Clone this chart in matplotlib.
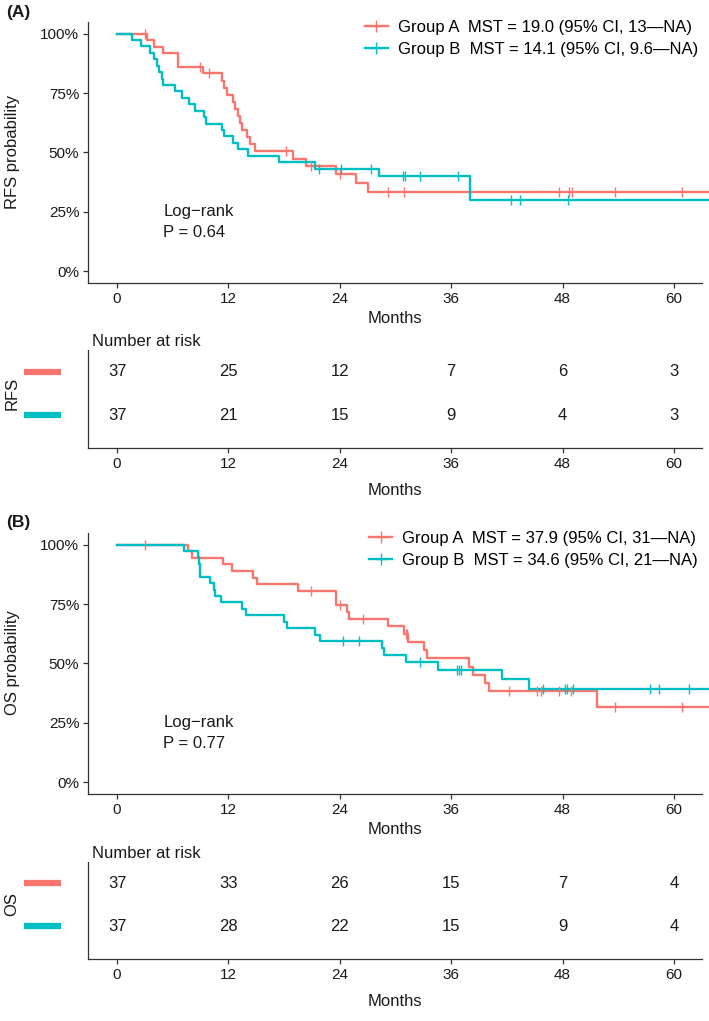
import numpy as np
import matplotlib
matplotlib.use("Agg")
import matplotlib.pyplot as plt
from matplotlib.lines import Line2D

plt.rcParams['font.family'] = ['Liberation Sans', 'DejaVu Sans']

# ---------------- data ----------------
n_patients = 37
group_names = ["Group A", "Group B"]
colors = ["#F8766D", "#00BFC4"]

rfs_a_events = [3.2, 4.0, 5.0, 6.6, 6.6, 9.3, 11.35, 11.5, 11.9, 12.5, 12.7, 13.06,
                13.2, 13.5, 14.05, 14.3, 14.87, 19.0, 20.4, 23.6, 25.75, 27.0]
rfs_a_censor = [3.0, 8.9, 9.9, 18.2, 20.9, 24.0, 29.2, 30.9, 47.6, 48.7, 49.0, 53.7, 60.9]
rfs_b_events = [1.58, 2.58, 3.55, 4.0, 4.35, 4.56, 4.8, 5.0, 6.25, 6.97, 7.8, 8.4,
                9.375, 9.6, 11.28, 11.53, 12.47, 13.07, 14.1, 17.5, 21.3, 28.2, 38.05, 38.05]
rfs_b_censor = [21.8, 24.1, 27.4, 30.8, 31.0, 32.6, 36.7, 42.4, 43.4, 48.6]

os_a_events = [7.6, 8.1, 11.46, 12.36, 14.6, 15.05, 19.5, 23.6, 23.6, 24.75, 25.0, 29.2,
               30.96, 31.4, 33.1, 33.4, 37.9, 38.4, 39.7, 40.1, 51.7]
os_a_censor = [3.0, 20.9, 24.0, 26.5, 31.1, 31.25, 42.2, 45.3, 45.7, 47.6, 48.9, 53.7, 60.9]
os_b_events = [7.2, 8.7, 8.8, 8.95, 8.95, 10.06, 10.4, 10.6, 11.25, 13.5, 13.9, 18.0,
               18.3, 21.3, 21.9, 28.6, 28.8, 31.15, 34.6, 41.45, 44.4]
os_b_censor = [24.3, 26.1, 32.6, 36.6, 36.9, 37.1, 45.9, 48.3, 48.5, 49.1, 57.4, 58.4, 61.6]

risk_times = [0, 12, 24, 36, 48, 60]
rfs_risk_a = [37, 25, 12, 7, 6, 3]
rfs_risk_b = [37, 21, 15, 9, 4, 3]
os_risk_a = [37, 33, 26, 15, 7, 4]
os_risk_b = [37, 28, 22, 15, 9, 4]

rfs_legend = ["Group A  MST = 19.0 (95% CI, 13\u2014NA)",
              "Group B  MST = 14.1 (95% CI, 9.6\u2014NA)"]
os_legend = ["Group A  MST = 37.9 (95% CI, 31\u2014NA)",
             "Group B  MST = 34.6 (95% CI, 21\u2014NA)"]
rfs_p = "Log\u2212rank\nP = 0.64"
os_p = "Log\u2212rank\nP = 0.77"
y_ticks = [0, 0.25, 0.5, 0.75, 1.0]
y_ticklabels = ["0%", "25%", "50%", "75%", "100%"]

# ---------------- helpers ----------------
W, H = 709, 1021
fig = plt.figure(figsize=(W / 100, H / 100), dpi=100)
XMIN, XMAX = -3.1, 63.0


def px_axes(l, t, r, b):
    return fig.add_axes([l / W, 1 - b / H, (r - l) / W, (b - t) / H])


def km(events, censors, n):
    ev = np.sort(np.array(events, float))
    ce = np.sort(np.array(censors, float))
    ut = np.unique(ev)
    s = 1.0
    ts, ss = [0.0], [1.0]
    for t in ut:
        at_risk = n - np.sum(ev < t) - np.sum(ce < t)
        d = np.sum(ev == t)
        s *= (1 - d / at_risk)
        ts.append(t)
        ss.append(s)
    return np.array(ts), np.array(ss)


def surv_at(ts, ss, t):
    idx = np.searchsorted(ts, t, side='right') - 1
    return ss[idx]


def style_axes(ax):
    for sp in ['top', 'right']:
        ax.spines[sp].set_visible(False)
    for sp in ['left', 'bottom']:
        ax.spines[sp].set_linewidth(0.9)
        ax.spines[sp].set_color('#333333')
    ax.tick_params(axis='both', direction='out', length=3.5, width=0.9,
                   color='#333333', labelsize=11, labelcolor='#1a1a1a', pad=3)


def survival_panel(top, events_list, censor_list, legend_labels, ptext, ylab, tag):
    ax = px_axes(88.3, top + 21.7, 701.7, top + 283.3)
    style_axes(ax)
    handles = []
    for ev, ce, col, lab in zip(events_list, censor_list, colors, legend_labels):
        ts, ss = km(ev, ce, n_patients)
        tx = np.append(ts, 63.8)
        sx = np.append(ss, ss[-1])
        ax.step(tx, sx, where='post', color=col, lw=1.7, clip_on=False, zorder=3)
        cy = [surv_at(ts, ss, c) for c in ce]
        ax.plot(ce, cy, linestyle='none', marker='|', markersize=7.5, mew=1.0,
                color=col, zorder=4)
        handles.append(Line2D([], [], color=col, lw=1.7, marker='+', markersize=8,
                              mew=1.0, label=lab))
    ax.set_xlim(XMIN, XMAX)
    ax.set_ylim(-0.05, 1.05)
    ax.set_xticks(risk_times)
    ax.set_yticks(y_ticks)
    ax.set_yticklabels(y_ticklabels)
    ax.text(5.0, 0.208, ptext, fontsize=12, ha='left', va='center',
            linespacing=1.45, color='#1a1a1a')
    ax.legend(handles=handles, loc='upper right', bbox_to_anchor=(1.005, 1.032),
              frameon=False, fontsize=12, handlelength=1.4, handletextpad=0.6,
              labelspacing=0.42, borderaxespad=0.0)
    fig.text(12 / W, 1 - (top + 152) / H, ylab, rotation=90, ha='center',
             va='center', fontsize=12, color='#1a1a1a')
    fig.text(395 / W, 1 - (top + 318) / H, "Months", ha='center', va='center',
             fontsize=12, color='#1a1a1a')
    fig.text(6 / W, 1 - (top + 12) / H, tag, ha='left', va='center',
             fontsize=12.5, fontweight='bold', color='#1a1a1a')
    return ax


def risk_table(top, risk_a, risk_b, ylab):
    row1, row2, axis_y = top + 372, top + 415, top + 448
    ax_top = row1 - 21.5
    ax = px_axes(88.3, ax_top, 701.7, axis_y)
    style_axes(ax)
    ax.set_xlim(XMIN, XMAX)
    spacing = row2 - row1
    y_top = 2 + (row1 - ax_top) / spacing
    ax.set_ylim(y_top - (axis_y - ax_top) / spacing, y_top)
    ax.set_xticks(risk_times)
    ax.set_yticks([])
    for t, a, b in zip(risk_times, risk_a, risk_b):
        ax.text(t, 2, str(a), ha='center', va='center', fontsize=12, color='#1a1a1a')
        ax.text(t, 1, str(b), ha='center', va='center', fontsize=12, color='#1a1a1a')
    trans = ax.get_yaxis_transform()
    for yy, col in zip([2, 1], colors):
        ax.plot([-0.105, -0.045], [yy, yy], transform=trans, color=col, lw=4.5,
                solid_capstyle='butt', clip_on=False)
    fig.text(92 / W, 1 - (top + 342) / H, "Number at risk", ha='left', va='center',
             fontsize=12, color='#1a1a1a')
    fig.text(12 / W, 1 - ((row1 + row2) / 2) / H, ylab, rotation=90, ha='center',
             va='center', fontsize=12, color='#1a1a1a')
    fig.text(395 / W, 1 - (top + 490) / H, "Months", ha='center', va='center',
             fontsize=12, color='#1a1a1a')
    return ax


survival_panel(0, [rfs_a_events, rfs_b_events], [rfs_a_censor, rfs_b_censor],
               rfs_legend, rfs_p, "RFS probability", "(A)")
risk_table(0, rfs_risk_a, rfs_risk_b, "RFS")
survival_panel(511, [os_a_events, os_b_events], [os_a_censor, os_b_censor],
               os_legend, os_p, "OS probability", "(B)")
risk_table(511, os_risk_a, os_risk_b, "OS")

fig.savefig("out.png", dpi=100)
